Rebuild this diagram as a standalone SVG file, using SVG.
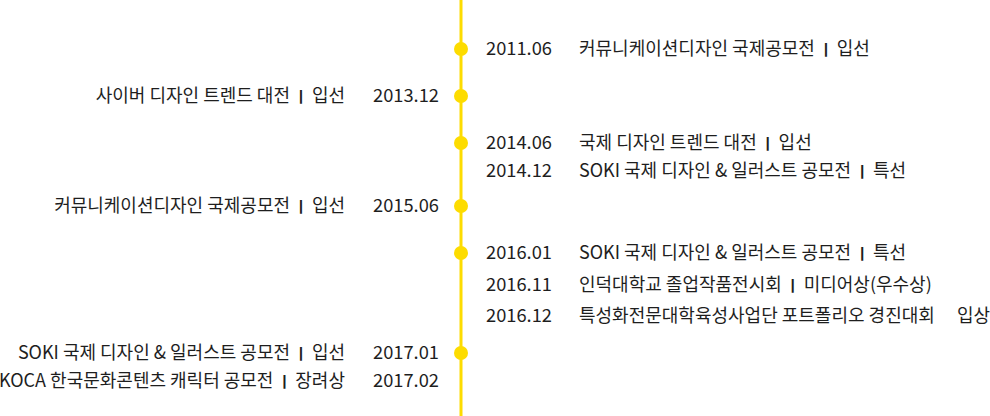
<svg xmlns="http://www.w3.org/2000/svg" width="990" height="416" viewBox="0 0 990 416">
<style>
text{font-family:"Noto Sans CJK KR","Noto Sans",sans-serif;font-size:18px;font-weight:400;fill:#1e1e1e;}
.y{font-size:18.3px;}
.s{font-weight:700;font-size:15px;}
.r{text-anchor:end;}
.dot{fill:#FDDC00;}
</style>
<rect width="990" height="416" fill="#fff"/>
<g id="connectors">
<line x1="461" y1="0" x2="461" y2="416" stroke="#FDDC00" stroke-width="3"/>
</g>
<g id="dots">
<circle class="dot" cx="461" cy="49" r="7"/>
<circle class="dot" cx="461" cy="96" r="7"/>
<circle class="dot" cx="461" cy="143" r="7"/>
<circle class="dot" cx="461" cy="206" r="7"/>
<circle class="dot" cx="461" cy="253" r="7"/>
<circle class="dot" cx="461" cy="353" r="7"/>
</g>
<g id="right">
<text class="y" x="486" y="55">2011.06</text><text x="579" y="55">커뮤니케이션디자인 국제공모전 <tspan class="s">ㅣ</tspan> 입선</text>
<text class="y" x="486" y="149">2014.06</text><text x="579" y="149">국제 디자인 트렌드 대전 <tspan class="s">ㅣ</tspan> 입선</text>
<text class="y" x="486" y="177">2014.12</text><text x="579" y="177">SOKI 국제 디자인 &amp; 일러스트 공모전 <tspan class="s">ㅣ</tspan> 특선</text>
<text class="y" x="486" y="259">2016.01</text><text x="579" y="259">SOKI 국제 디자인 &amp; 일러스트 공모전 <tspan class="s">ㅣ</tspan> 특선</text>
<text class="y" x="486" y="291">2016.11</text><text x="579" y="291">인덕대학교 졸업작품전시회 <tspan class="s">ㅣ</tspan> 미디어상(우수상)</text>
<text class="y" x="486" y="322">2016.12</text><text x="579" y="322">특성화전문대학육성사업단 포트폴리오 경진대회 <tspan x="957">입상</tspan></text>
</g>
<g id="left">
<text class="r y" x="439" y="102">2013.12</text><text class="r" x="345" y="102">사이버 디자인 트렌드 대전 <tspan class="s">ㅣ</tspan> 입선</text>
<text class="r y" x="439" y="212">2015.06</text><text class="r" x="345" y="212">커뮤니케이션디자인 국제공모전 <tspan class="s">ㅣ</tspan> 입선</text>
<text class="r y" x="439" y="359">2017.01</text><text class="r" x="345" y="359">SOKI 국제 디자인 &amp; 일러스트 공모전 <tspan class="s">ㅣ</tspan> 입선</text>
<text class="r y" x="439" y="387">2017.02</text><text class="r" x="345" y="387">KOCA 한국문화콘텐츠 캐릭터 공모전 <tspan class="s">ㅣ</tspan> 장려상</text>
</g>
</svg>
